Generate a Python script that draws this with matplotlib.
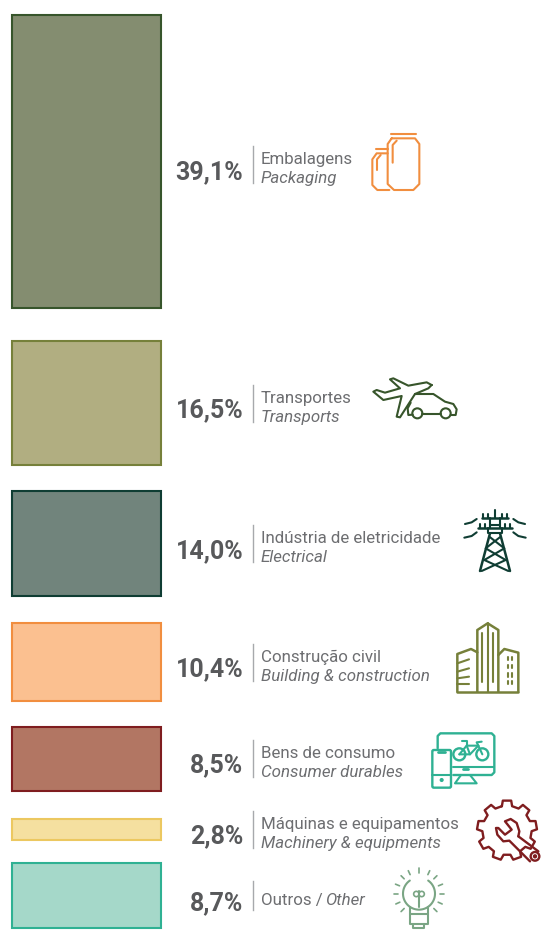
import numpy as np
import matplotlib
matplotlib.use("Agg")
import matplotlib.pyplot as plt
from matplotlib.patches import Circle, FancyBboxPatch

# data
values = [39.1, 16.5, 14.0, 10.4, 8.5, 2.8, 8.7]
value_labels = ["39,1%", "16,5%", "14,0%", "10,4%", "8,5%", "2,8%", "8,7%"]
labels_pt = ["Embalagens", "Transportes", "Indústria de eletricidade", "Construção civil",
             "Bens de consumo", "Máquinas e equipamentos", "Outros / "]
labels_en = ["Packaging", "Transports", "Electrical", "Building & construction",
             "Consumer durables", "Machinery & equipments", "Other"]

# layout, in pixels
fills = ["#848d70", "#b1ae81", "#71847c", "#fbc090", "#b27663", "#f5e0a0", "#a5d8c9"]
edges = ["#37552b", "#76803a", "#0f3d33", "#f18e3f", "#7f1d1f", "#ecc860", "#2fb193"]
bar_gaps = [15, 32.75, 26.25, 27, 26, 28.25, 23]
px_per_pct = 7.5
base_y = [164, 403, 543, 662, 758, 829, 905]
pct_y = [179, 417, 558, 676, 772, 843, 910]
FONT = "Roboto"
LW = 1.5

fig = plt.figure(figsize=(5.43, 9.39), dpi=100)
ax = fig.add_axes([0, 0, 1, 1])
ax.set_xlim(0, 543)
ax.set_ylim(939, 0)
ax.axis("off")

top = 0
for v, gap, f, e in zip(values, bar_gaps, fills, edges):
    top += gap
    ax.bar(86.5, v * px_per_pct, bottom=top, width=149, color=f, edgecolor=e, linewidth=1.5)
    top += v * px_per_pct

for i, y in enumerate(base_y):
    ax.text(243.5, pct_y[i], value_labels[i], ha="right", va="baseline", family=FONT,
            weight="bold", fontsize=18, color="#58595b")
    ax.text(261, y, labels_pt[i], ha="left", va="baseline", family=FONT,
            fontsize=12.2, color="#6d6e71")
    if i < 6:
        ax.plot([253, 253], [y - 18, y + 19], color="#a7a9ac", lw=1)
        ax.text(261, y + 19, labels_en[i], ha="left", va="baseline", family=FONT,
                style="italic", fontsize=12.2, color="#6d6e71")
    else:
        ax.plot([253, 253], [y - 24, y + 5], color="#a7a9ac", lw=1)
        ax.text(325, y, labels_en[i], ha="left", va="baseline", family=FONT,
                style="italic", fontsize=12.2, color="#6d6e71")


# icons: at 3x, ox/oy is the crop corner
def line(ox, oy, pts, color, lw=LW):
    pts = np.array(pts, dtype=float)
    ax.plot(ox + pts[:, 0] / 3, oy + pts[:, 1] / 3, color=color, lw=lw,
            solid_joinstyle="round", solid_capstyle="round")


def circle(ox, oy, cx, cy, r, color, lw=LW, fc="none"):
    ax.add_patch(Circle((ox + cx / 3, oy + cy / 3), r / 3, fc=fc, ec=color, lw=lw))


def rrect(ox, oy, x0, y0, x1, y1, color, lw=LW):
    ax.add_patch(FancyBboxPatch((ox + x0 / 3, oy + y0 / 3), (x1 - x0) / 3, (y1 - y0) / 3,
                                boxstyle="round,pad=0,rounding_size=1.5", fc="white", ec=color, lw=lw))


# jars
c = "#f18e3f"
line(170, 120, [[663, 42], [737, 42]], c)
line(170, 120, [[665, 55], [735, 55], [748, 72], [748, 192], [730, 210], [672, 210], [653, 192], [653, 72], [665, 55]], c)
line(170, 120, [[617, 86], [653, 86]], c)
line(170, 120, [[653, 100], [620, 100], [607, 118], [607, 195], [622, 210], [658, 210]], c)
line(170, 120, [[680, 62], [668, 75], [668, 128]], c)
line(170, 120, [[632, 105], [621, 118], [621, 150]], c)

# plane and car
c = "#37552b"
line(365, 370, [[200, 45], [185, 37], [130, 47], [85, 25], [75, 28], [105, 55], [60, 68], [35, 60], [25, 65],
                [55, 90], [110, 78], [95, 140], [105, 142], [150, 72], [190, 55], [200, 45]], c)
line(365, 370, [[150, 72], [205, 72], [240, 95], [265, 102], [275, 118], [272, 135], [257, 135]], c)
line(365, 370, [[228, 132], [172, 132]], c)
line(365, 370, [[143, 134], [130, 135], [128, 115], [137, 98]], c)
circle(365, 370, 242, 130, 15, c)
circle(365, 370, 157, 130, 15, c)

# pylon
c = "#0f3d33"
ox, oy = 455, 505
line(ox, oy, [[120, 15], [120, 40]], c)
line(ox, oy, [[80, 40], [160, 40]], c, 1.8)
line(ox, oy, [[68, 70], [172, 70]], c, 1.8)
for x in [85, 100, 140, 155]:
    line(ox, oy, [[x, 28], [x, 40]], c)
for x in [75, 90, 150, 165]:
    line(ox, oy, [[x, 58], [x, 70]], c)
line(ox, oy, [[105, 40], [105, 60], [135, 60], [135, 40]], c)
line(ox, oy, [[105, 60], [105, 70]], c)
line(ox, oy, [[135, 60], [135, 70]], c)
line(ox, oy, [[100, 70], [100, 85], [140, 85], [140, 70]], c)
line(ox, oy, [[105, 85], [75, 198]], c, 1.8)
line(ox, oy, [[135, 85], [165, 198]], c, 1.8)
line(ox, oy, [[103, 95], [148, 130], [88, 165], [160, 198]], c)
line(ox, oy, [[137, 95], [92, 130], [152, 165], [80, 198]], c)
line(ox, oy, [[30, 57], [50, 52], [65, 42]], c)
line(ox, oy, [[28, 98], [50, 93], [65, 82]], c)
line(ox, oy, [[175, 42], [190, 52], [210, 57]], c)
line(ox, oy, [[175, 82], [190, 93], [212, 98]], c)

# buildings
c = "#76803a"
ox, oy = 170, 500
line(ox, oy, [[862, 575], [1045, 575]], c, 1.8)
line(ox, oy, [[922, 575], [922, 390], [953, 370], [985, 390], [985, 575]], c, 1.8)
line(ox, oy, [[953, 370], [953, 575]], c)
line(ox, oy, [[937, 400], [937, 545]], c)
line(ox, oy, [[968, 400], [968, 545]], c)
line(ox, oy, [[922, 457], [903, 447], [862, 462], [862, 575]], c, 1.8)
line(ox, oy, [[985, 465], [1003, 447], [1045, 458], [1045, 575]], c, 1.8)
for y0, y1 in [(490, 478), (515, 505), (535, 530), (553, 553)]:
    line(ox, oy, [[862, y0], [897, y1]], c)
for x in [1015, 1027]:
    for y in [475, 500, 525, 548]:
        line(ox, oy, [[x, y - 5], [x, y + 5]], c)

# screen, phone and bike
c = "#2fb193"
ox, oy = 425, 725
line(ox, oy, [[38, 70], [38, 33], [46, 25], [200, 25], [208, 33], [208, 142], [200, 150], [85, 150]], c, 1.7)
line(ox, oy, [[85, 125], [208, 125]], c)
line(ox, oy, [[113, 133], [130, 133]], c, 2)
line(ox, oy, [[108, 150], [90, 175], [155, 175], [135, 150]], c)
rrect(ox, oy, 22, 75, 78, 188, c, 1.7)
line(ox, oy, [[22, 150], [78, 150]], c)
line(ox, oy, [[40, 80], [60, 80]], c, 2)
circle(ox, oy, 50, 165, 3, c, fc=c)
circle(ox, oy, 103, 88, 18, c, 1.7)
circle(ox, oy, 172, 88, 18, c, 1.7)
line(ox, oy, [[103, 88], [125, 62], [160, 62], [172, 88]], c)
line(ox, oy, [[125, 62], [135, 88], [103, 88]], c)
line(ox, oy, [[135, 88], [160, 62]], c)
line(ox, oy, [[110, 48], [125, 48], [125, 62]], c)
line(ox, oy, [[160, 62], [155, 52], [170, 50]], c)

# gear and wrench
c = "#7f1d1f"
ox, oy = 470, 793
n_teeth = 9
gear = []
for k in range(n_teeth):
    a0 = np.radians(-90 + k * 360 / n_teeth)
    step = np.radians(360 / n_teeth)
    for frac, r in [(-0.30, 74), (-0.20, 90), (0.20, 90), (0.30, 74)]:
        a = a0 + frac * step
        gear.append([111 + r * np.cos(a), 112 + r * np.sin(a)])
gear.append(gear[0])
line(ox, oy, gear, c, 1.7)
line(ox, oy, [[145, 130], [205, 175]], c, 1.7)
line(ox, oy, [[180, 205], [118, 143], [100, 145], [82, 125], [78, 105], [85, 105], [105, 125], [125, 110],
              [105, 85], [122, 78], [140, 90], [148, 115], [145, 130]], c, 1.7)
circle(ox, oy, 195, 190, 13, c, 1.7, fc="white")
circle(ox, oy, 195, 190, 4, c, 1.2, fc=c)

# bulb
c = "#7aa584"
ox, oy = 385, 862
t = np.radians(np.linspace(125, 415, 60))
line(ox, oy, np.c_[102 + 48 * np.cos(t), 95 - 48 * np.sin(t)], c)
line(ox, oy, [[74, 134], [74, 155], [130, 155], [130, 134]], c)
line(ox, oy, [[74, 155], [74, 185], [130, 185], [130, 155]], c)
line(ox, oy, [[85, 185], [85, 198], [118, 198], [118, 185]], c)
line(ox, oy, [[102, 135], [102, 88]], c)
circle(ox, oy, 94, 96, 8, c, 1.2)
circle(ox, oy, 110, 96, 8, c, 1.2)
for ang in [0, 25, 45, 68, 90, 114, 135, -25, -45, -68, -90, -114, -135]:
    a = np.radians(ang)
    line(ox, oy, [[102 + 63 * np.sin(a), 95 - 63 * np.cos(a)], [102 + 76 * np.sin(a), 95 - 76 * np.cos(a)]], c, 1.2)

fig.savefig("out.png", dpi=100, facecolor="white")
